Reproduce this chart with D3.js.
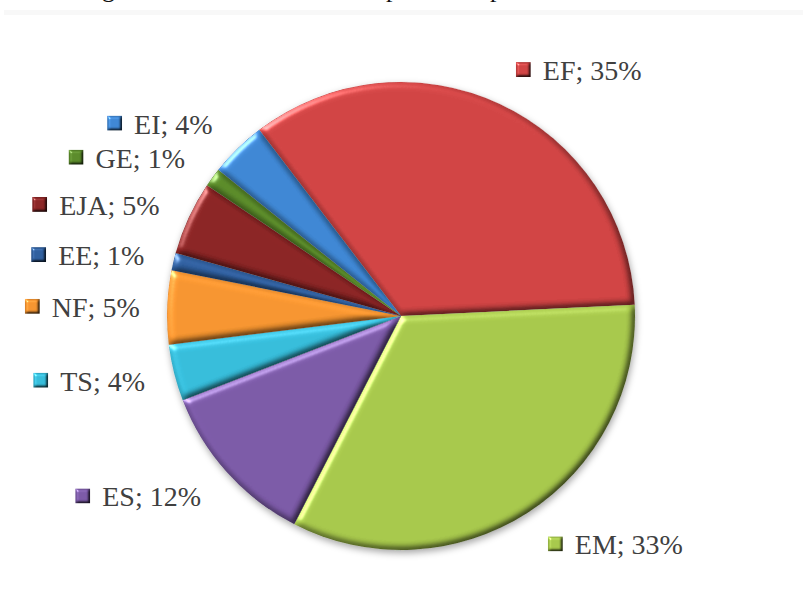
<!DOCTYPE html>
<html>
<head>
<meta charset="utf-8">
<script src="https://cdn.jsdelivr.net/npm/d3@7"></script>
<style>
  body { margin: 0; background: #fff; }
  svg { display: block; }
</style>
</head>
<body>
<svg id="chart" width="803" height="615"></svg>
<script>
// dados (ordem horaria a partir de EF)
const categories = ["EF", "EM", "ES", "TS", "NF", "EE", "EJA", "GE", "EI"];
const shares = [34.6, 33.3, 11.6, 3.9, 5.1, 1.2, 5.1, 1.3, 3.9];
const colors = ["#d24444", "#a8c94c", "#7c5aa8", "#36bedc", "#f89630", "#2f5f9f", "#8c2525", "#5b8c2a", "#3f88d6"];

const width = 803, height = 615;
const cx = 401, cy = 316, R = 234;
const startDeg = -37.3;

var svg = d3.select("#chart");
var defs = svg.append("defs");

// bevel parecido com o do Excel
const bevel = (id, blur, scale) => {
    var f = defs.append("filter").attr("id", id)
        .attr("color-interpolation-filters", "sRGB")
        .attr("x", "-10%").attr("y", "-10%").attr("width", "120%").attr("height", "120%");
    f.append("feGaussianBlur").attr("in", "SourceAlpha").attr("stdDeviation", blur).attr("result", "blur");
    f.append("feDiffuseLighting").attr("in", "blur").attr("surfaceScale", scale)
        .attr("diffuseConstant", 1.12).attr("lighting-color", "#fff").attr("result", "diff")
        .append("feDistantLight").attr("azimuth", 225).attr("elevation", 62);
    f.append("feComposite").attr("in", "SourceGraphic").attr("in2", "diff")
        .attr("operator", "arithmetic").attr("k1", 1).attr("k2", 0).attr("k3", 0).attr("k4", 0).attr("result", "lit");
    f.append("feSpecularLighting").attr("in", "blur").attr("surfaceScale", scale)
        .attr("specularConstant", 0.6).attr("specularExponent", 25).attr("lighting-color", "#fff").attr("result", "spec")
        .append("feDistantLight").attr("azimuth", 225).attr("elevation", 25);
    f.append("feComposite").attr("in", "spec").attr("in2", "SourceAlpha").attr("operator", "in").attr("result", "specIn");
    f.append("feComposite").attr("in", "lit").attr("in2", "SourceAlpha").attr("operator", "in").attr("result", "litIn");
    f.append("feComposite").attr("in", "litIn").attr("in2", "specIn")
        .attr("operator", "arithmetic").attr("k1", 0).attr("k2", 1).attr("k3", 0.8).attr("k4", 0);
};
bevel("bevel", 3.5, 4);
bevel("bevelSmall", 1.5, 3);

var shadow = defs.append("filter").attr("id", "shadow")
    .attr("x", "-10%").attr("y", "-10%").attr("width", "120%").attr("height", "120%");
shadow.append("feDropShadow").attr("dx", 1).attr("dy", 3).attr("stdDeviation", 3.5)
    .attr("flood-color", "#000").attr("flood-opacity", 0.35);

// resto do texto do documento cortado no topo
svg.append("rect").attr("x", 4).attr("y", 10).attr("width", width - 4).attr("height", 5).attr("fill", "#f8f8f8");
svg.append("g")
    .selectAll("text")
    .data([{t: "g", x: 102}, {t: "p", x: 386}, {t: "p", x: 490}])
    .join("text")
    .attr("x", d => d.x).attr("y", -3)
    .attr("font-family", "'Liberation Serif', 'Times New Roman', serif")
    .attr("font-size", 26).attr("fill", "#111")
    .text(d => d.t);

var data = categories.map((c, i) => ({cat: c, value: shares[i], color: colors[i]}));

var pie = d3.pie()
    .sort(null)
    .value(d => d.value)
    .startAngle(startDeg * Math.PI / 180)
    .endAngle(startDeg * Math.PI / 180 + 2 * Math.PI);

var arc = d3.arc().innerRadius(0).outerRadius(R);
var arcs = pie(data);

var gPie = svg.append("g")
    .attr("transform", "translate(" + cx + "," + cy + ")")
    .attr("filter", "url(#shadow)");

gPie.selectAll("path")
    .data(arcs)
    .join("path")
    .attr("d", arc)
    .attr("fill", d => d.data.color)
    .attr("stroke", d => d3.color(d.data.color).darker(0.4))
    .attr("stroke-width", 0.4)
    .attr("filter", "url(#bevel)");

// rotulos com chave de legenda
var gLab = svg.append("g");
arcs.forEach(function(d) {
    var mid = (d.startAngle + d.endAngle) / 2;
    var g = gLab.append("g");
    var txt = g.append("text")
        .attr("font-family", "'Liberation Serif', 'Times New Roman', serif")
        .attr("font-size", 28)
        .attr("fill", "#404040")
        .text(d.data.cat + "; " + Math.round(d.data.value) + "%");
    var tw = txt.node().getComputedTextLength();
    var boxW = 27 + tw;
    var off = 27 + 12 * Math.abs(Math.cos(mid));
    var ax = cx + (R + off) * Math.sin(mid);
    var ay = cy - (R + off) * Math.cos(mid);
    var left = Math.sin(mid) >= 0 ? ax : ax - boxW;
    g.append("rect")
        .attr("x", left).attr("y", ay - 7.5)
        .attr("width", 15).attr("height", 15)
        .attr("fill", d.data.color)
        .attr("filter", "url(#bevelSmall)");
    txt.attr("x", left + 27).attr("y", ay + 10.5);
});
</script>
</body>
</html>
